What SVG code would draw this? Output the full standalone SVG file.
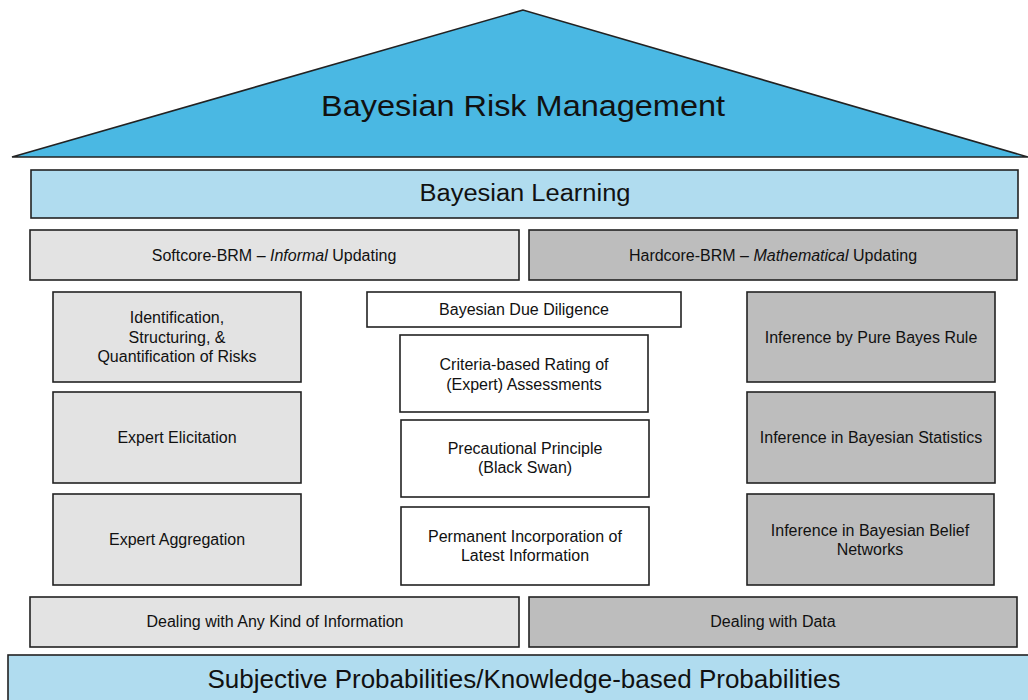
<svg xmlns="http://www.w3.org/2000/svg" width="1028" height="700" viewBox="0 0 1028 700">
<style>
  text { font-family: "Liberation Sans", Arial, sans-serif; fill: #111; text-anchor: middle; }
  .box { stroke: #222; stroke-width: 1.6; }
  .lg { fill: #e3e3e3; }
  .dg { fill: #bdbdbd; }
  .wh { fill: #ffffff; }
  .lb { fill: #b0dcef; }
  .t16 { font-size: 16px; }
</style>
<rect width="1028" height="700" fill="#ffffff"/>
<g id="roof">
  <polygon points="523,10 12,157 1028,157" fill="#4ab8e3" stroke="#222" stroke-width="1.6"/>
  <text x="523" y="116" font-size="29" textLength="404" lengthAdjust="spacingAndGlyphs">Bayesian Risk Management</text>
</g>
<g id="learning">
  <rect class="box lb" x="31" y="170" width="987" height="48"/>
  <text x="525" y="201" font-size="23" textLength="211" lengthAdjust="spacingAndGlyphs">Bayesian Learning</text>
</g>
<g id="softcore">
  <rect class="box lg" x="30" y="230" width="489" height="50"/>
  <text class="t16" x="274" y="260.5">Softcore-BRM – <tspan font-style="italic">Informal</tspan> Updating</text>
</g>
<g id="hardcore">
  <rect class="box dg" x="529" y="230" width="488" height="50"/>
  <text class="t16" x="773" y="260.5">Hardcore-BRM – <tspan font-style="italic">Mathematical</tspan> Updating</text>
</g>
<g id="identification">
  <rect class="box lg" x="53" y="292" width="248" height="90"/>
  <text class="t16" x="177" y="323">Identification,</text>
  <text class="t16" x="177" y="342.5">Structuring, &amp;</text>
  <text class="t16" x="177" y="362">Quantification of Risks</text>
</g>
<g id="elicitation">
  <rect class="box lg" x="53" y="392" width="248" height="91"/>
  <text class="t16" x="177" y="443">Expert Elicitation</text>
</g>
<g id="aggregation">
  <rect class="box lg" x="53" y="494" width="248" height="91"/>
  <text class="t16" x="177" y="545">Expert Aggregation</text>
</g>
<g id="due-diligence">
  <rect class="box wh" x="367" y="292" width="314" height="35"/>
  <text class="t16" x="524" y="315">Bayesian Due Diligence</text>
</g>
<g id="criteria">
  <rect class="box wh" x="400" y="335" width="248" height="77"/>
  <text class="t16" x="524" y="370">Criteria-based Rating of</text>
  <text class="t16" x="524" y="389.5">(Expert) Assessments</text>
</g>
<g id="precautional">
  <rect class="box wh" x="401" y="420" width="248" height="77"/>
  <text class="t16" x="525" y="453.5">Precautional Principle</text>
  <text class="t16" x="525" y="473">(Black Swan)</text>
</g>
<g id="permanent">
  <rect class="box wh" x="401" y="507" width="248" height="78"/>
  <text class="t16" x="525" y="541.5">Permanent Incorporation of</text>
  <text class="t16" x="525" y="561">Latest Information</text>
</g>
<g id="pure-bayes">
  <rect class="box dg" x="747" y="292" width="248" height="90"/>
  <text class="t16" x="871" y="343">Inference by Pure Bayes Rule</text>
</g>
<g id="statistics">
  <rect class="box dg" x="747" y="392" width="248" height="91"/>
  <text class="t16" x="871" y="443">Inference in Bayesian Statistics</text>
</g>
<g id="belief-networks">
  <rect class="box dg" x="747" y="494" width="247" height="91"/>
  <text class="t16" x="870" y="535.5">Inference in Bayesian Belief</text>
  <text class="t16" x="870" y="555">Networks</text>
</g>
<g id="any-information">
  <rect class="box lg" x="30" y="597" width="489" height="50"/>
  <text class="t16" x="275" y="627">Dealing with Any Kind of Information</text>
</g>
<g id="data">
  <rect class="box dg" x="529" y="597" width="488" height="50"/>
  <text class="t16" x="773" y="627">Dealing with Data</text>
</g>
<g id="foundation">
  <rect class="box lb" x="8" y="655" width="1030" height="60"/>
  <text x="524" y="688" font-size="26">Subjective Probabilities/Knowledge-based Probabilities</text>
</g>
<g id="connectors"></g>
</svg>
